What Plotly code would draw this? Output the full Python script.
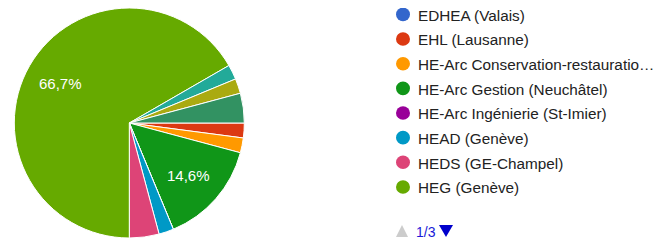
import math
import plotly.graph_objects as go

# ---- data ----
labels = [
    "EDHEA (Valais)",
    "EHL (Lausanne)",
    "HE-Arc Conservation-restauration",
    "HE-Arc Gestion (Neuchâtel)",
    "HE-Arc Ingénierie (St-Imier)",
    "HEAD (Genève)",
    "HEDS (GE-Champel)",
    "HEG (Genève)",
    "HEIG-VD (Yverdon)",
    "HEMU (Lausanne)",
    "HEPIA (Genève)",
]
values = [0, 1, 1, 7, 0, 1, 2, 32, 1, 1, 2]
colors = ["#3366cc", "#dc3912", "#ff9900", "#109618", "#990099",
          "#0099c6", "#dd4477", "#66aa00", "#22aa99", "#aaaa11", "#329262"]
legend_labels = [
    "EDHEA (Valais)",
    "EHL (Lausanne)",
    "HE-Arc Conservation-restauratio…",
    "HE-Arc Gestion (Neuchâtel)",
    "HE-Arc Ingénierie (St-Imier)",
    "HEAD (Genève)",
    "HEDS (GE-Champel)",
    "HEG (Genève)",
]
page_text = "1/3"

# page body has an 8px margin: work in window pixels, shift by OFF
OFF = 8
W, H = 662 - OFF, 243 - OFF
START = 90  # degrees clockwise from 12 o'clock

total = sum(values)
cx, cy, r = 129.3, 123, 115

def px(x): return (x - OFF) / W
def py(y): return 1 - (y - OFF) / H
def clip(v): return min(1.0, max(0.0, v))

fig = go.Figure()
fig.add_trace(go.Pie(
    labels=labels, values=values, textinfo="none",
    sort=False, direction="clockwise", rotation=START,
    marker=dict(colors=colors, line=dict(color="white", width=1)),
    showlegend=False, hoverinfo="label+value+percent",
    domain=dict(x=[clip(px(cx - r)), clip(px(cx + r))], y=[clip(py(cy + r)), clip(py(cy - r))]),
))

annotations = []
# percentage labels for the large slices, placed at each slice's mid-angle
acc = 0
for v in values:
    p = v / total * 100
    mid = START + (acc + v / 2) / total * 360
    acc += v
    if p >= 10:
        a = math.radians(mid)
        x = cx + 0.69 * r * math.sin(a)
        y = cy - 0.69 * r * math.cos(a)
        annotations.append(dict(x=px(x), y=py(y), xref="paper", yref="paper",
                                text=f"{p:.1f}%".replace(".", ","), showarrow=False,
                                xanchor="center", yanchor="middle",
                                font=dict(size=15, color="white", family="Liberation Sans, Arial")))

shapes = []
y0, dy = 14.4, 24.65
for i, (lab, col) in enumerate(zip(legend_labels, colors)):
    y = y0 + i * dy
    shapes.append(dict(type="circle", xref="paper", yref="paper",
                       x0=px(396), x1=px(410), y0=py(y + 6.8), y1=py(y - 6.8),
                       fillcolor=col, line=dict(width=0)))
    annotations.append(dict(x=px(416), y=py(y + 0.8), xref="paper", yref="paper",
                            text=lab, showarrow=False, xanchor="left", yanchor="middle",
                            font=dict(size=15.3, color="#222222", family="Liberation Sans, Arial")))

# pagination
def tri(xl, xr, ytop, ybot, up):
    if up:
        pts = [(xl, ybot), (xr, ybot), ((xl + xr) / 2, ytop)]
    else:
        pts = [(xl, ytop), (xr, ytop), ((xl + xr) / 2, ybot)]
    return "M " + " L ".join(f"{px(a):.5f},{py(b):.5f}" for a, b in pts) + " Z"

shapes.append(dict(type="path", xref="paper", yref="paper", path=tri(396, 408, 225, 237, True),
                   fillcolor="#cccccc", line=dict(width=0)))
shapes.append(dict(type="path", xref="paper", yref="paper", path=tri(439, 453, 225, 237, False),
                   fillcolor="#0000cc", line=dict(width=0)))
annotations.append(dict(x=px(414), y=py(231.5), xref="paper", yref="paper", text=page_text,
                        showarrow=False, font=dict(size=14, color="#1a1ad8", family="Liberation Sans, Arial"),
                        xanchor="left", yanchor="middle"))

fig.update_layout(
    width=W, height=H, margin=dict(l=0, r=0, t=0, b=0),
    paper_bgcolor="white", plot_bgcolor="white",
    shapes=shapes, annotations=annotations,
)
fig.write_html("out.html")
